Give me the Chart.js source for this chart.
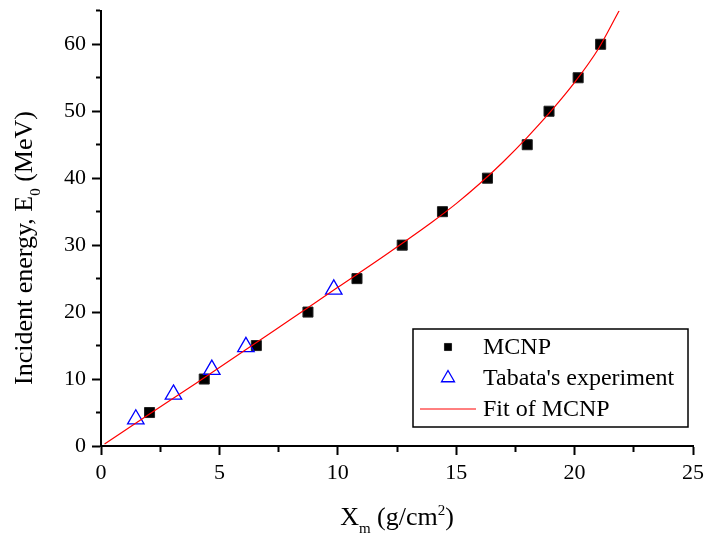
<!DOCTYPE html>
<html>
<head>
<meta charset="utf-8">
<script src="https://cdn.jsdelivr.net/npm/chart.js@4.4.1/dist/chart.umd.min.js"></script>
<style>
  html, body { margin: 0; padding: 0; background: #fff; }
  #wrap { width: 706px; height: 536px; }
</style>
</head>
<body>
<div id="wrap"><canvas id="chart" width="706" height="536"></canvas></div>
<script>
// MCNP results: depth X_m (g/cm2) vs incident energy E0 (MeV)
const mcnpEnergy = [5, 10, 15, 20, 25, 30, 35, 40, 45, 50, 55, 60];
const mcnpDepth = [2.05, 4.36, 6.56, 8.74, 10.81, 12.72, 14.42, 16.32, 18.0, 18.92, 20.15, 21.1];

// Tabata's experiment
const tabataDepth = [1.47, 3.06, 4.68, 6.12, 9.83];
const tabataEnergy = [4.0, 7.7, 11.4, 14.8, 23.4];

// fit curve
const fitDepth = [0.15, 2, 4, 6, 8, 10, 12, 14, 15, 16, 17, 18, 19, 20, 21, 21.88];
const fitEnergy = [0.3, 4.65, 9.35, 14.1, 18.9, 23.7, 28.5, 33.5, 36.2, 39.2, 42.5, 46.1, 50.0, 54.3, 59.3, 65];

const xTitle = ['X', 'm', ' (g/cm', '2', ')'];
const yTitle = ['Incident energy, E', '0', ' (MeV)'];

const FONT = '"Liberation Serif", "Times New Roman", serif';

function pts(xs, ys) {
  return xs.map((x, i) => ({ x: x, y: ys[i] }));
}

// text pieces: normal / sub / sup
function richWidth(ctx, parts, kinds, big, small) {
  let w = 0;
  parts.forEach((p, i) => {
    ctx.font = (kinds[i] === 'n' ? big : small) + 'px ' + FONT;
    w += ctx.measureText(p).width;
  });
  return w;
}
function richDraw(ctx, parts, kinds, big, small, x, y) {
  parts.forEach((p, i) => {
    ctx.font = (kinds[i] === 'n' ? big : small) + 'px ' + FONT;
    let dy = 0;
    if (kinds[i] === 'sub') dy = 8;
    if (kinds[i] === 'sup') dy = -10;
    ctx.fillText(p, x, y + dy);
    x += ctx.measureText(p).width;
  });
}

const titlesPlugin = {
  id: 'titles',
  afterDraw(chart) {
    const ctx = chart.ctx;
    const area = chart.chartArea;
    ctx.save();
    ctx.fillStyle = '#000';
    ctx.textBaseline = 'alphabetic';
    ctx.textAlign = 'left';
    // x title
    const xk = ['n', 'sub', 'n', 'sup', 'n'];
    let w = richWidth(ctx, xTitle, xk, 26, 15);
    richDraw(ctx, xTitle, xk, 26, 15, (area.left + area.right) / 2 - w / 2, 525);
    // y title, rotated
    const yk = ['n', 'sub', 'n'];
    w = richWidth(ctx, yTitle, yk, 26, 15);
    ctx.translate(32, 248);
    ctx.rotate(-Math.PI / 2);
    richDraw(ctx, yTitle, yk, 26, 15, -w / 2, 0);
    ctx.restore();
  }
};

const legendPlugin = {
  id: 'boxLegend',
  afterDraw(chart) {
    const ctx = chart.ctx;
    const area = chart.chartArea;
    const right = area.right - 5, bottom = area.bottom - 19;
    const left = right - 275, top = bottom - 98;
    ctx.save();
    ctx.strokeStyle = '#000';
    ctx.lineWidth = 1.5;
    ctx.strokeRect(left, top, right - left, bottom - top);
    const rows = [top + 18, top + 49, top + 80];
    chart.data.datasets.forEach((ds, i) => {
      const cy = rows[i];
      const cx = left + 35;
      if (ds.showLine) {
        ctx.strokeStyle = ds.borderColor;
        ctx.lineWidth = 1;
        ctx.beginPath();
        ctx.moveTo(left + 7, cy);
        ctx.lineTo(left + 63, cy);
        ctx.stroke();
      } else {
        ctx.fillStyle = ds.backgroundColor;
        ctx.strokeStyle = ds.borderColor;
        ctx.lineWidth = ds.borderWidth;
        Chart.helpers.drawPoint(ctx, {
          pointStyle: ds.pointStyle,
          radius: ds.legendRadius,
          borderWidth: ds.borderWidth,
          rotation: 0
        }, cx, cy);
      }
      ctx.fillStyle = '#000';
      ctx.font = '24px ' + FONT;
      ctx.textBaseline = 'middle';
      ctx.textAlign = 'left';
      ctx.fillText(ds.label, left + 70, cy + 1);
    });
    ctx.restore();
  }
};

const tickGrid = {
  drawOnChartArea: false,
  drawTicks: true,
  tickLength: 9,
  tickWidth: 2,
  tickColor: '#000'
};
const axisBorder = { display: true, color: '#000', width: 2 };

new Chart(document.getElementById('chart'), {
  type: 'scatter',
  data: {
    datasets: [{
      label: 'MCNP',
      data: pts(mcnpDepth, mcnpEnergy),
      pointStyle: 'rect',
      pointRadius: 7.1,
      legendRadius: 5,
      backgroundColor: '#000',
      borderColor: '#222',
      borderWidth: 1,
      order: 2
    }, {
      label: "Tabata's experiment",
      data: pts(tabataDepth, tabataEnergy),
      pointStyle: 'triangle',
      pointRadius: 9.5,
      legendRadius: 7.5,
      backgroundColor: 'rgba(0,0,0,0)',
      borderColor: '#0000ff',
      borderWidth: 1.3,
      order: 1
    }, {
      label: 'Fit of MCNP',
      data: pts(fitDepth, fitEnergy),
      showLine: true,
      pointRadius: 0,
      borderColor: '#ff0000',
      borderWidth: 1.2,
      cubicInterpolationMode: 'monotone',
      order: 0
    }]
  },
  options: {
    responsive: false,
    animation: false,
    events: [],
    layout: { padding: { top: 8, right: 13, left: 0, bottom: 0 } },
    plugins: { legend: { display: false }, tooltip: { enabled: false } },
    scales: {
      x: {
        type: 'linear',
        position: 'bottom',
        min: 0,
        max: 25,
        afterFit(scale) {
          scale.height = 90;
          scale.paddingLeft = 0;
          scale.paddingRight = 0;
        },
        ticks: {
          stepSize: 2.5,
          autoSkip: false,
          maxRotation: 0,
          padding: 5,
          color: '#000',
          font: { family: FONT, size: 22 },
          callback: v => (v % 5 === 0 ? v : '')
        },
        grid: Object.assign({}, tickGrid, {
          tickBorderDash: c => (c.tick && c.tick.value % 5 !== 0 ? [5, 100] : [])
        }),
        border: axisBorder
      },
      y: {
        type: 'linear',
        min: 0,
        max: 65,
        afterFit(scale) {
          scale.width = 101;
          scale.paddingTop = 0;
          scale.paddingBottom = 0;
        },
        ticks: {
          stepSize: 5,
          autoSkip: false,
          padding: 6,
          color: '#000',
          font: { family: FONT, size: 22 },
          callback: v => (v % 10 === 0 ? v : '')
        },
        grid: Object.assign({}, tickGrid, {
          tickBorderDash: c => (c.tick && c.tick.value % 10 !== 0 ? [0, 4, 5, 100] : [])
        }),
        border: axisBorder
      }
    }
  },
  plugins: [titlesPlugin, legendPlugin]
});
</script>
</body>
</html>
